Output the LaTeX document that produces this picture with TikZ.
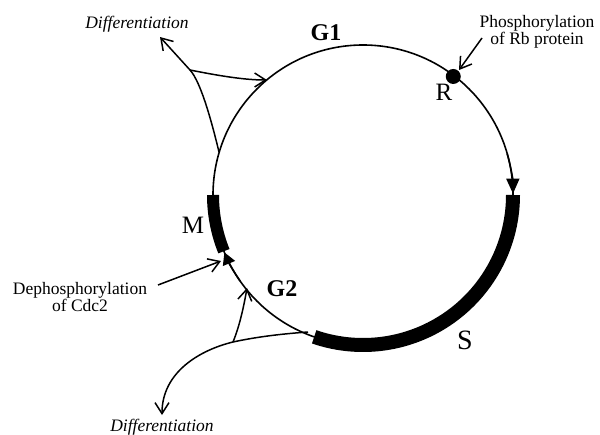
\documentclass[tikz,border=0pt]{standalone}
\usepackage{fontspec}
\setmainfont{Liberation Serif}
\usetikzlibrary{arrows.meta}
\begin{document}
\begin{tikzpicture}[x=1pt,y=-1pt,
  cyc/.style={line width=1.6pt},
  link/.style={line width=1.5pt,-{Straight Barb[length=11pt,width=14pt]}},
  phasebar/.style={line width=14pt},
  headtip/.style={line width=1.6pt,-{Triangle[length=15pt,width=13pt]}},
  note/.style={font=\fontsize{17.5}{17}\selectfont,align=center,inner sep=0pt},
  diff/.style={font=\fontsize{17.5}{18}\selectfont\itshape,inner sep=0pt},
  phase/.style={font=\fontsize{24}{24}\selectfont\bfseries,inner sep=0pt},
  lbl/.style={font=\fontsize{25}{25}\selectfont,inner sep=0pt}]
\useasboundingbox (0,0) rectangle (600,434);
\coordinate (c) at (363,195);
% cycle
\draw[cyc] (c) circle (150);
% S bar
\draw[phasebar] ([shift={(0:150)}]c) arc[start angle=0,end angle=109,radius=150];
% M bar
\draw[line width=12pt] ([shift={(180:150)}]c) arc[start angle=180,end angle=158,radius=150];
% arrow into S
\draw[headtip] ([shift={(-16:150)}]c) arc[start angle=-16,end angle=-0.5,radius=150];
% arrow into M
\draw[line width=1.6pt,-{Triangle[length=12pt,width=13pt]}] ([shift={(145:150)}]c) arc[start angle=145,end angle=157.5,radius=150];
% R dot
\coordinate (Rpt) at ([shift={(-52.7:149)}]c);
\fill (Rpt) circle (7.5);
% labels
\node[phase] (g1) at (326,33) {G1};
\node[phase] (g2) at (282,289) {G2};
\node[lbl] (m) at (193,225) {M};
\node[lbl] (r) at (444,92) {R};
\node[lbl,font=\fontsize{28}{28}\selectfont] (s) at (465,340) {S};
\node[note] (phos) at (537,32) {Phosphorylation\\of Rb protein};
\node[note] (dephos) at (80,297) {Dephosphorylation\\of Cdc2};
\node[diff] (difftop) at (137,24) {Differentiation};
\node[diff] (diffbot) at (162,427) {Differentiation};
% annotation arrows
\coordinate (phosS) at (482,38);
\coordinate (phosT) at (459,70);
\draw[link] (phosS) -- (phosT);
\coordinate (dephS) at (158,285);
\coordinate (dephT) at (221,261);
\draw[link] (dephS) -- (dephT);
% top-left branch
\coordinate (s1) at (219,152);
\coordinate (j1) at (190,70);
\coordinate (d1) at (160,37);
\coordinate (a1) at (267,80);
\draw[link] (s1) .. controls (212,123) and (201,82) .. (j1) -- (d1);
\draw[link] (j1) .. controls (220,76) and (245,80) .. (a1);
% bottom branch
\coordinate (s2) at (308,332);
\coordinate (j2) at (233,342);
\coordinate (d2) at (162,415);
\coordinate (a2) at (247,288);
\draw[link] (s2) .. controls (280,334) and (256,337) .. (j2) .. controls (200,350) and (162,372) .. (d2);
\draw[link] (j2) .. controls (240,325) and (244,305) .. (a2);
\end{tikzpicture}
\end{document}
